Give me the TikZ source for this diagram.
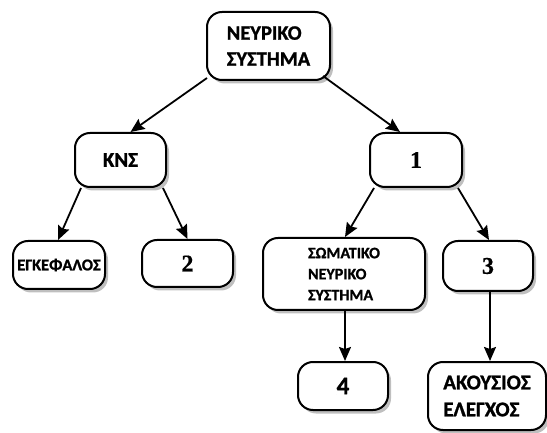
\documentclass[tikz,border=0pt]{standalone}
\usepackage{fontspec}
\setmainfont{Carlito}[BoldFeatures={FakeBold=1.2}]
\newfontfamily\numfont{Liberation Serif}[BoldFeatures={FakeBold=0.6}]
\usetikzlibrary{shadows,calc,arrows.meta}
\tikzset{
  box/.style={draw=black, line width=2pt, rounded corners=15pt, fill=white,
    inner sep=0pt, font=\bfseries,
    drop shadow={shadow xshift=3pt, shadow yshift=-3.5pt, fill=black!50, opacity=0.5}},
  arr/.style={line width=1.8pt, -{Stealth[length=14pt,width=12pt,inset=2pt]}},
}
\begin{document}
\begin{tikzpicture}[x=1pt,y=-1pt]
\useasboundingbox (0,0) rectangle (547,433);
\node[box, minimum width=123pt, minimum height=68pt, align=left,
  font=\fontsize{20.5}{26}\selectfont\bfseries] (top) at (268.5,46) {ΝΕΥΡΙΚΟ\\ΣΥΣΤΗΜΑ};
\node[box, minimum width=91pt, minimum height=54pt,
  font=\fontsize{21}{25}\selectfont\bfseries] (kns) at (120.5,160) {ΚΝΣ};
\node[box, minimum width=92pt, minimum height=54pt,
  font=\fontsize{24}{28}\selectfont\numfont\bfseries] (one) at (416,160) {1};
\node[box, minimum width=92pt, minimum height=48pt,
  font=\fontsize{16.5}{20}\selectfont\bfseries] (egk) at (59,265) {ΕΓΚΕΦΑΛΟΣ};
\node[box, minimum width=91pt, minimum height=47pt,
  font=\fontsize{24}{28}\selectfont\numfont\bfseries] (two) at (187.5,263.5) {2};
\node[box, minimum width=162pt, minimum height=72pt, align=left,
  font=\fontsize{16}{21}\selectfont\bfseries] (som) at (344,274) {ΣΩΜΑΤΙΚΟ\\ΝΕΥΡΙΚΟ\\ΣΥΣΤΗΜΑ};
\node[box, minimum width=90pt, minimum height=50pt,
  font=\fontsize{24}{28}\selectfont\numfont\bfseries] (three) at (488,266) {3};
\node[box, minimum width=90pt, minimum height=48pt,
  font=\fontsize{25}{28}\selectfont\bfseries] (four) at (343,386) {4};
\node[box, minimum width=118pt, minimum height=68pt, align=left,
  font=\fontsize{21}{27}\selectfont\bfseries] (akou) at (487,396) {ΑΚΟΥΣΙΟΣ\\ΕΛΕΓΧΟΣ};

\draw[arr] ($(top.south west)+(1,-3)$) -- ($(kns.north)+(10,0)$);
\draw[arr] ($(top.south east)+(-8,-5)$) -- ($(one.north)+(-16,0)$);
\draw[arr] ($(kns.south west)+(7,0)$) -- ($(egk.north)+(-1,0)$);
\draw[arr] ($(kns.south east)+(-4,0)$) -- (two.north);
\draw[arr] ($(one.south west)+(5,0)$) -- ($(som.north)+(1,0)$);
\draw[arr] ($(one.south east)+(-5,0)$) -- ($(three.north)+(1,0)$);
\draw[arr] ($(som.south)+(1,0)$) -- ($(four.north)+(2,0)$);
\draw[arr] ($(three.south)+(2,0)$) -- ($(akou.north)+(3,0)$);
\end{tikzpicture}
\end{document}
